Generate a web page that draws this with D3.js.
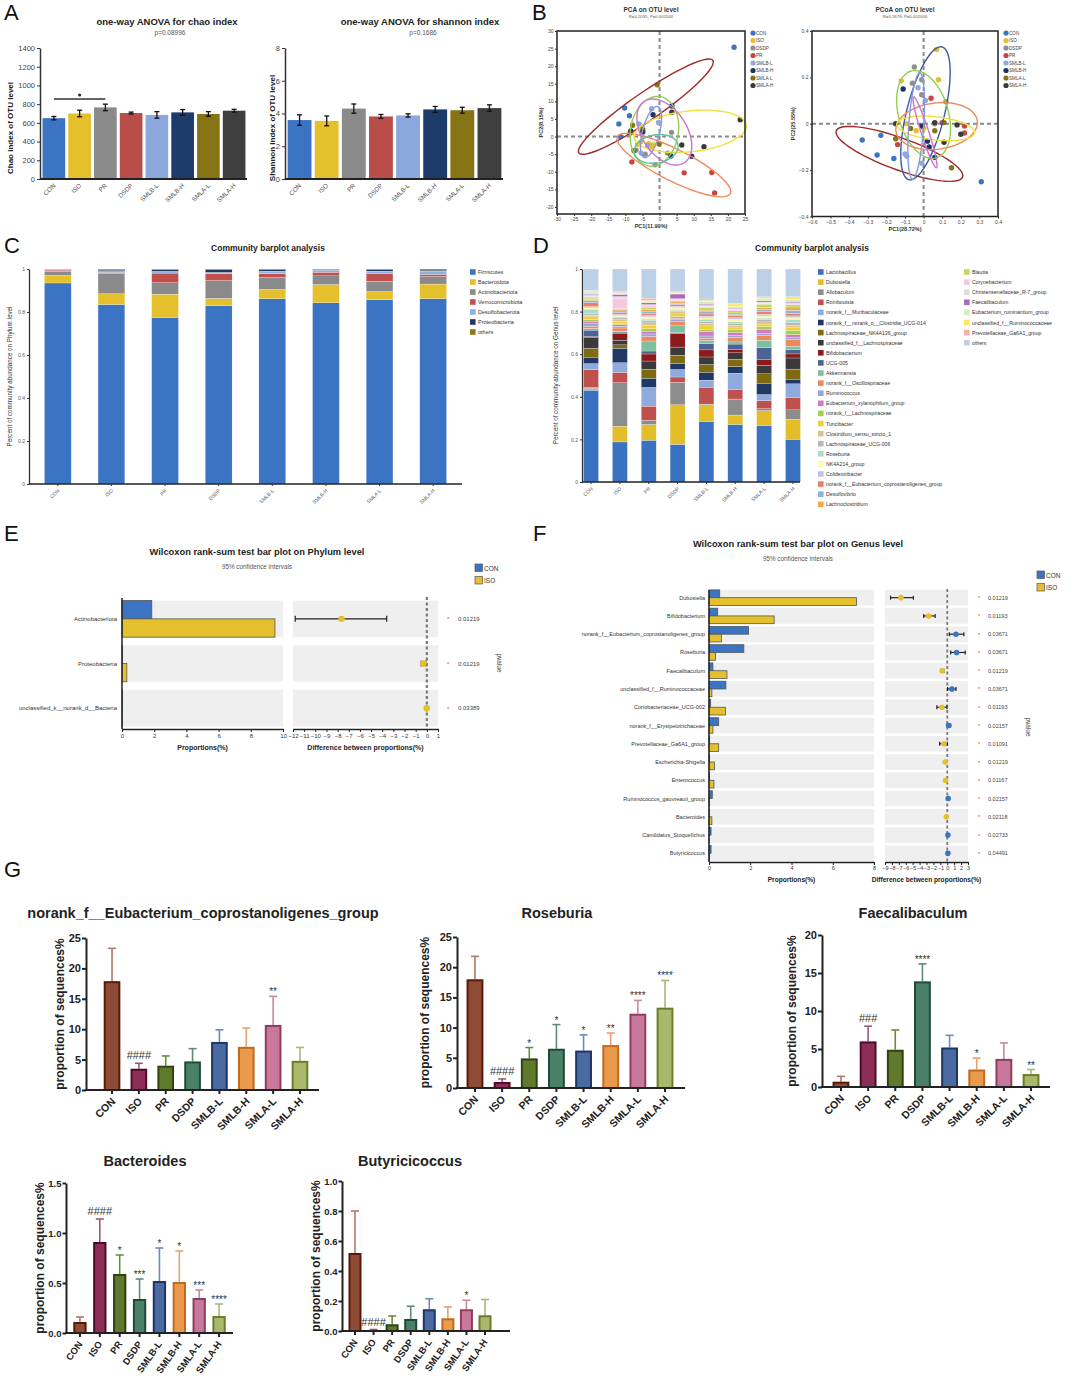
<!DOCTYPE html>
<html>
<head>
<meta charset="utf-8">
<script src="https://cdn.jsdelivr.net/npm/d3@7"></script>
<style>
html,body{margin:0;padding:0;background:#fff;}
svg{display:block;font-family:"Liberation Sans",Arial,Helvetica,sans-serif;}
</style>
</head>
<body>
<svg id="fig" width="1080" height="1380"></svg>
<script>
// ================= DATA =================
const groups = ["CON","ISO","PR","DSDP","SMLB-L","SMLB-H","SMLA-L","SMLA-H"];

// Panel A – alpha diversity
const chaoMean = [650,700,765,705,685,712,695,730];
const chaoErr  = [18,35,35,10,35,30,25,15];
const chaoTicks = [0,200,400,600,800,1000,1200,1400];
const shannonMean = [3.6,3.55,4.3,3.82,3.88,4.25,4.2,4.33];
const shannonErr  = [0.32,0.3,0.28,0.12,0.1,0.18,0.18,0.2];
const shannonTicks = [0,2,4,6,8];

// Panel B – PCA / PCoA (legend order)
const betaGroups = ["CON","ISO","DSDP","PR","SMLB-L","SMLB-H","SMLA-L","SMLA-H"];
const pcaCON  = [[21.8,25.4],[-10.2,8.1],[-8.8,5.9],[-11.9,3.6],[-11.4,0]];
const pcaISO  = [[-1.8,-2.4],[-3.2,-2.0],[-6.4,-2.2],[-2.5,-3.0],[-5.5,-1.5]];
const pcaDSDP = [[3.5,1.2],[-1.3,-8.0],[2.3,-4.7],[-6.9,-3.9],[-4.2,-5.0]];
const pcaPR   = [[-8.1,-7.2],[7.2,-10.3],[15.3,-10.2],[16.1,-16.0],[-8.6,1.0]];
const pcaSMLBL= [[-2.3,7.9],[-0.3,4.0],[-6.0,3.6],[-5.4,-4.7],[-3.5,-2.5]];
const pcaSMLBH= [[3.6,8.7],[-1.9,6.2],[-8.4,1.6],[3.3,-5.5],[9.4,-5.6]];
const pcaSMLAL= [[-0.7,14.7],[-7.9,3.2],[-4.9,2.0],[-0.1,-2.1],[-7.5,-4.0]];
const pcaSMLAH= [[23.6,4.8],[3.6,6.9],[6.5,-2.4],[13.0,-2.9],[-4.9,1.3]];
// ellipses: [cx, cy, semi-major, semi-minor, angle(deg)]
const pcaEllipses = [[-4,8.5,23.6,4,33.8],[4.2,-8.1,18.4,4.5,-26],[9,1.5,16.5,5.8,6],[-1.5,1.5,10,7,80],[1.4,1.3,10.5,6.5,-55],[-2.5,1.3,7.5,2.5,75],[-1,-3.5,6.5,4,10]];
const pcoaCON  = [[-0.33,-0.07],[-0.23,-0.05],[-0.25,-0.135],[-0.16,-0.15],[0.31,-0.25]];
const pcoaISO  = [[0.07,0.32],[-0.12,0.185],[0.08,0.19],[-0.09,0.0],[-0.04,-0.03],[0.0,-0.02]];
const pcoaDSDP = [[-0.05,0.245],[-0.06,0.175],[-0.01,0.19],[-0.01,0.125],[0.12,0.095],[0.06,0.0]];
const pcoaPR   = [[0.04,0.11],[-0.14,-0.09],[0.22,-0.01],[0.22,-0.04],[0.1,0.005]];
const pcoaSMLBL= [[-0.03,0.155],[0.01,0.1],[-0.1,-0.13],[-0.01,-0.17],[-0.09,-0.14]];
const pcoaSMLBH= [[-0.11,0.15],[-0.01,-0.01],[0.02,-0.075],[0.03,-0.1],[0.06,-0.145]];
const pcoaSMLAL= [[-0.07,-0.02],[-0.15,-0.065],[0.15,-0.19],[0.11,0.005],[0.06,-0.03]];
const pcoaSMLAH= [[-0.15,0.0],[0.06,0.005],[0.18,-0.005],[0.2,-0.045],[0.11,-0.08]];
const pcoaEllipses = [[-0.13,-0.13,0.354,0.07,-16],[0.01,0.045,0.3,0.1,72],[0.0,0.04,0.2,0.13,-65],[0.07,-0.01,0.22,0.1,5],[0.065,-0.02,0.21,0.05,-5],[0.0075,-0.037,0.165,0.02,-68],[-0.04,-0.01,0.23,0.04,85]];
const pcaTicksX = [-30,-25,-20,-15,-10,-5,0,5,10,15,20,25];
const pcaTicksY = [-20,-15,-10,-5,0,5,10,15,20,25,30];
const pcoaTicksX = [-0.6,-0.5,-0.4,-0.3,-0.2,-0.1,0,0.1,0.2,0.3,0.4];
const pcoaTicksY = [-0.4,-0.2,0,0.2,0.4];

// Panel C – phylum composition
const phylumNames = ["Firmicutes","Bacteroidota","Actinobacteriota","Verrucomicrobiota","Desulfobacterota","Proteobacteria","others"];
const firmicutes        = [0.935,0.835,0.775,0.83,0.862,0.843,0.858,0.862];
const bacteroidota      = [0.035,0.05,0.108,0.033,0.043,0.085,0.037,0.068];
const actinobacteriota  = [0.02,0.095,0.053,0.083,0.055,0.04,0.048,0.035];
const verrucomicrobiota = [0.005,0.004,0.045,0.032,0.018,0.017,0.037,0.01];
const desulfobacterota  = [0.003,0.008,0.008,0.006,0.012,0.01,0.01,0.015];
const proteobacteria    = [0.001,0.004,0.008,0.012,0.006,0.003,0.006,0.005];
const phylumOthers      = [0.001,0.004,0.003,0.004,0.004,0.002,0.004,0.005];

// Panel D – genus composition
const genusNames = ["Lactobacillus","Dubosiella","Allobaculum","Romboutsia","norank_f__Muribaculaceae","norank_f__norank_o__Clostridia_UCG-014","Lachnospiraceae_NK4A136_group","unclassified_f__Lachnospiraceae","Bifidobacterium","UCG-005","Akkermansia","norank_f__Oscillospiraceae","Ruminococcus","Eubacterium_xylanophilum_group","norank_f__Lachnospiraceae","Turicibacter","Clostridium_sensu_stricto_1","Lachnospiraceae_UCG-006","Roseburia","NK4A214_group","Colidextribacter","norank_f__Eubacterium_coprostanoligenes_group","Desulfovibrio","Lachnoclostridium","Blautia","Corynebacterium","Christensenellaceae_R-7_group","Faecalibaculum","Eubacterium_ruminantium_group","unclassified_f__Ruminococcaceae","Prevotellaceae_Ga6A1_group","others"];
const genusCON  = [0.43,0.007,0.005,0.085,0.027,0.027,0.045,0.05,0.005,0.03,0.008,0.01,0.012,0.012,0.008,0.012,0.008,0.008,0.02,0.006,0.006,0.018,0.01,0.006,0.006,0.008,0.008,0.003,0.01,0.004,0.003,0.1];
const genusISO  = [0.188,0.074,0.204,0.049,0.045,0.068,0.016,0.022,0.033,0.005,0.004,0.015,0.008,0.008,0.006,0.01,0.01,0.008,0.004,0.004,0.006,0.008,0.008,0.006,0.004,0.05,0.008,0.01,0.004,0.004,0.006,0.105];
const genusPR   = [0.196,0.074,0.02,0.066,0.088,0.043,0.042,0.039,0.033,0.014,0.047,0.021,0.012,0.01,0.015,0.015,0.012,0.01,0.008,0.01,0.008,0.008,0.008,0.01,0.012,0.006,0.006,0.008,0.006,0.006,0.01,0.137];
const genusDSDP = [0.176,0.185,0.105,0.025,0.035,0.027,0.04,0.038,0.064,0.004,0.031,0.02,0.01,0.006,0.008,0.012,0.01,0.006,0.006,0.008,0.006,0.008,0.006,0.006,0.006,0.004,0.005,0.022,0.004,0.004,0.004,0.105];
const genusSMLBL= [0.283,0.078,0.003,0.079,0.033,0.037,0.036,0.035,0.033,0.03,0.015,0.01,0.01,0.02,0.012,0.015,0.012,0.01,0.01,0.006,0.008,0.01,0.01,0.008,0.012,0.004,0.006,0.006,0.012,0.006,0.006,0.14];
const genusSMLBH= [0.27,0.044,0.075,0.046,0.075,0.032,0.034,0.03,0.014,0.027,0.01,0.02,0.01,0.015,0.015,0.01,0.008,0.01,0.008,0.01,0.008,0.01,0.006,0.006,0.01,0.004,0.004,0.004,0.008,0.012,0.004,0.16];
const genusSMLAL= [0.264,0.069,0.009,0.038,0.028,0.05,0.047,0.04,0.028,0.055,0.034,0.021,0.012,0.015,0.015,0.012,0.01,0.01,0.008,0.01,0.008,0.012,0.01,0.01,0.015,0.004,0.006,0.006,0.01,0.004,0.004,0.13];
const genusSMLAH= [0.2,0.094,0.044,0.059,0.063,0.022,0.047,0.052,0.019,0.02,0.016,0.031,0.012,0.012,0.02,0.012,0.012,0.012,0.015,0.008,0.008,0.012,0.015,0.015,0.01,0.004,0.006,0.006,0.008,0.01,0.004,0.13];

// Panel E – Wilcoxon phylum
const phylaE   = ["Actinobacteriota","Proteobacteria","unclassified_k__norank_d__Bacteria"];
const phylaECON = [1.85,0.02,0.02];
const phylaEISO = [9.5,0.3,0.01];
const phylaEDiff = [-7.65,-0.3,-0.01];
const phylaELo   = [-11.8,-0.5,-0.04];
const phylaEHi   = [-3.6,-0.1,0.01];
const phylaEP    = ["0.01219","0.01219","0.03389"];
const diffTicksE = [-12,-11,-10,-9,-8,-7,-6,-5,-4,-3,-2,-1,0,1];
const propTicksE = [0,2,4,6,8,10];

// Panel F – Wilcoxon genus
const generaF = ["Dubosiella","Bifidobacterium","norank_f__Eubacterium_coprostanoligenes_group","Roseburia","Faecalibaculum","unclassified_f__Ruminococcaceae","Coriobacteriaceae_UCG-002","norank_f__Erysipelotrichaceae","Prevotellaceae_Ga6A1_group","Escherichia-Shigella","Enterococcus","Ruminococcus_gauvreauii_group","Bacteroides","Candidatus_Stoquefichus","Butyricicoccus"];
const generaFCON = [0.52,0.42,1.92,1.69,0.19,0.82,0.08,0.47,0.03,0.03,0.02,0.16,0.01,0.1,0.1];
const generaFISO = [7.15,3.16,0.6,0.32,0.87,0.14,0.8,0.19,0.47,0.27,0.24,0.02,0.14,0.01,0.01];
const generaFDiff = [-6.7,-2.7,1.26,1.35,-0.72,0.68,-0.77,0.2,-0.48,-0.3,-0.25,0.14,-0.13,0.09,0.09];
const generaFLo   = [-8.2,-3.4,0.3,0.5,-0.95,0.05,-1.5,0.0,-1.1,-0.42,-0.36,0.05,-0.2,0.03,0.03];
const generaFHi   = [-4.9,-1.75,2.4,2.6,-0.45,1.26,-0.05,0.5,0.0,-0.15,-0.12,0.22,-0.06,0.14,0.14];
const generaFP    = ["0.01219","0.01193","0.03671","0.03671","0.01219","0.03671","0.01193","0.02157","0.01091","0.01219","0.01167","0.02157","0.02118","0.02733","0.04491"];
const diffTicksF = [-9,-8,-7,-6,-5,-4,-3,-2,-1,0,1,2,3];
const propTicksF = [0,2,4,6,8];

// Panel G – key genera
const eubMean = [17.9,3.5,4.0,4.7,7.9,7.1,10.7,4.8];
const eubErr  = [5.4,0.9,1.6,2.1,2.0,3.1,4.7,2.2];
const eubSig  = ["","####","","","","","**",""];
const rosMean = [18.0,1.0,4.9,6.5,6.2,7.1,12.3,13.3];
const rosErr  = [3.8,0.5,1.8,4.0,2.6,2.0,2.2,4.5];
const rosSig  = ["","####","*","*","*","**","****","****"];
const faeMean = [0.7,6.0,4.9,13.9,5.2,2.3,3.7,1.7];
const faeErr  = [0.7,2.0,2.6,2.3,1.6,1.5,2.1,0.6];
const faeSig  = ["","###","","****","","*","","**"];
const bacMean = [0.11,0.91,0.59,0.34,0.52,0.51,0.35,0.17];
const bacErr  = [0.05,0.23,0.19,0.2,0.33,0.31,0.08,0.12];
const bacSig  = ["","####","*","***","*","*","***","****"];
const butMean = [0.52,0.005,0.045,0.08,0.145,0.085,0.145,0.105];
const butErr  = [0.28,0.005,0.055,0.085,0.07,0.075,0.06,0.105];
const butSig  = ["","####","","","","","*",""];

// ================= STYLES =================
const alphaColors = ["#3c74c4","#e4c02c","#8a8a8a","#b84d49","#8aa8dc","#1c3a6a","#857314","#3f3f3f"];
const betaColors  = ["#3c74c4","#e4c02c","#8f8f8f","#c9463d","#8fa9e0","#1c3565","#857314","#3a3a3a"];
const pcaEllColors = ["#a02828","#ec8a5c","#f0e040","#90d050","#d070d0","#8898e0","#60c0a0"];
const pcoaEllColors = ["#a02828","#3c5aa0","#90d050","#ec8a5c","#f0e040","#d070d0","#8898e0"];
const phylumColors = ["#3c74c4","#e4c02c","#8a8a8a","#c0504d","#8fb0e0","#1f3864","#8b7a14"];
const genusColors = ["#3a72c1","#e3bd2a","#8c8c8c","#c0504d","#8faadc","#1f3864","#7f6a10","#3a3a3a","#8b1a1a","#4a6594","#7fbf9f","#ed8a5a","#9aa6d8","#d479c5","#a5cf4f","#f2d033","#dcc090","#b8b8b8","#a8ddc8","#fdf7b0","#c8bfe5","#e8806e","#8eb4d8","#f0a84a","#c2d95a","#f5c8e0","#dcdcdc","#a66cc0","#d6ecc8","#f8ea5a","#f2b0a8","#bcd0e8"];
const gFill   = ["#8e4b35","#8c2e55","#5f7a2c","#4a8068","#4a6aa2","#ea9a4a","#c8789a","#a9b96c"];
const gStroke = ["#5a1808","#4e0c2a","#2f4410","#1e4a38","#1e3566","#c06a20","#8e3e5c","#6a7e2a"];
const gErrCol = ["#b27868","#9a5a7a","#6e8a3e","#5f8a78","#7088b8","#e8a070","#c88aa0","#a8b878"];
const CONC = "#3c74c4", ISOC = "#e4c02c";

// ================= HELPERS =================
const svg = d3.select("#fig");
svg.append("rect").attr("width",1080).attr("height",1380).attr("fill","#fff");
const FONT = '"Liberation Sans", Arial, sans-serif';

function txt(g, s, x, y, o={}) {
  const t = g.append("text").attr("x",x).attr("y",y).text(s)
    .attr("font-size", o.fs||8).attr("fill", o.fill||"#222")
    .attr("font-weight", o.fw||"normal").attr("text-anchor", o.anchor||"start");
  if (o.rotate!=null) t.attr("transform",`rotate(${o.rotate},${x},${y})`);
  return t;
}
function styleAxis(a, o){
  a.selectAll("text").attr("font-size",o.fs).attr("fill",o.fill||"#333").attr("font-weight",o.fw||"normal").attr("font-family",FONT);
  a.selectAll(".tick line").attr("stroke",o.stroke||"#333").attr("stroke-width",o.sw||1);
  a.selectAll(".domain").attr("stroke",o.stroke||"#333").attr("stroke-width",o.dw||o.sw||1);
  if (o.noDomain) a.select(".domain").remove();
}
function fmtNum(d){ return Math.abs(d)<1e-9 ? "0" : d3.format(".1f")(d); }

// Panel labels
[["A",4,20],["B",532,20],["C",4,253],["D",533,253],["E",4,541],["F",533,541],["G",4,877]].forEach(([s,x,y])=>txt(svg,s,x,y,{fs:22,fill:"#111"}));

// ================= PANEL A =================
function alphaChart(o){
  const g = svg.append("g");
  const x = d3.scaleBand().domain(groups).range(o.xr).paddingInner(0.12).paddingOuter(0.06);
  const y = d3.scaleLinear().domain([0,o.max]).range([o.y0,o.y1]);
  g.selectAll("rect.bar").data(o.mean).join("rect").attr("class","bar")
    .attr("x",(d,i)=>x(groups[i])).attr("width",x.bandwidth())
    .attr("y",d=>y(d)).attr("height",d=>y(0)-y(d)).attr("fill",(d,i)=>alphaColors[i]);
  o.mean.forEach((m,i)=>{
    const cx = x(groups[i])+x.bandwidth()/2;
    g.append("line").attr("x1",cx).attr("x2",cx).attr("y1",y(m-o.err[i])).attr("y2",y(m+o.err[i])).attr("stroke","#111").attr("stroke-width",1.3);
    [m-o.err[i], m+o.err[i]].forEach(v=>g.append("line").attr("x1",cx-2.5).attr("x2",cx+2.5).attr("y1",y(v)).attr("y2",y(v)).attr("stroke","#111").attr("stroke-width",1.3));
    txt(g, groups[i], cx+2, o.y0+7, {fs:6.3, fill:"#555", anchor:"end", rotate:-45});
  });
  const ya = g.append("g").attr("transform",`translate(${o.ax},0)`)
    .call(d3.axisLeft(y).tickValues(o.ticks).tickSize(3).tickSizeOuter(0).tickPadding(2).tickFormat(d3.format("d")));
  styleAxis(ya,{fs:7.5,fill:"#444",stroke:"#333",sw:1,dw:1.5});
  g.append("line").attr("x1",o.ax).attr("x2",o.xr[1]).attr("y1",y(0)).attr("y2",y(0)).attr("stroke","#222").attr("stroke-width",2);
  txt(g, o.title, o.tx, 25, {fs:9.5, fw:"bold", anchor:"middle", fill:"#222"});
  txt(g, o.p, o.tx+3, 35, {fs:6.5, anchor:"middle", fill:"#555"});
  txt(g, o.ylab, o.lx, 128, {fs:8, fw:"bold", anchor:"middle", rotate:-90, fill:"#222"});
  return {g,x,y};
}
const chao = alphaChart({xr:[41,247], ax:40, y0:179, y1:48, max:1400, ticks:chaoTicks, mean:chaoMean, err:chaoErr,
  title:"one-way ANOVA for chao index", p:"p=0.08996", tx:167, ylab:"Chao index of OTU level", lx:13});
{
  const cx1 = chao.x("CON")+chao.x.bandwidth()/2, cx2 = chao.x("PR")+chao.x.bandwidth()/2, yy = chao.y(855);
  chao.g.append("line").attr("x1",cx1).attr("x2",cx2).attr("y1",yy).attr("y2",yy).attr("stroke","#333").attr("stroke-width",1.6);
  chao.g.append("circle").attr("cx",(cx1+cx2)/2).attr("cy",yy-4).attr("r",1.5).attr("fill","#222");
}
alphaChart({xr:[286,503], ax:285, y0:179, y1:48, max:8, ticks:shannonTicks, mean:shannonMean, err:shannonErr,
  title:"one-way ANOVA for shannon index", p:"p=0.1686", tx:420, ylab:"Shannon index of OTU level", lx:275});

// ================= PANEL B =================
function betaPlot(o){
  const g = svg.append("g");
  const x = d3.scaleLinear().domain(o.xd).range([o.bx0,o.bx1]);
  const y = d3.scaleLinear().domain(o.yd).range([o.by1,o.by0]);
  g.append("line").attr("x1",x(0)).attr("x2",x(0)).attr("y1",o.by0).attr("y2",o.by1).attr("stroke","#8a8a8a").attr("stroke-width",2).attr("stroke-dasharray","4,3");
  g.append("line").attr("x1",o.bx0).attr("x2",o.bx1).attr("y1",y(0)).attr("y2",y(0)).attr("stroke","#8a8a8a").attr("stroke-width",2).attr("stroke-dasharray","4,3");
  o.points.forEach((pts,k)=>{
    g.selectAll(null).data(pts).join("circle").attr("cx",d=>x(d[0])).attr("cy",d=>y(d[1])).attr("r",2.7).attr("fill",betaColors[k]);
  });
  const line = d3.line().curve(d3.curveLinearClosed);
  o.ellipses.forEach((e,k)=>{
    const [cx,cy,a,b,ang] = e, ph = ang*Math.PI/180;
    const pts = d3.range(0,72).map(i=>{const t=i/72*2*Math.PI;
      return [x(cx + a*Math.cos(t)*Math.cos(ph) - b*Math.sin(t)*Math.sin(ph)), y(cy + a*Math.cos(t)*Math.sin(ph) + b*Math.sin(t)*Math.cos(ph))];});
    g.append("path").attr("d",line(pts)).attr("fill","none").attr("stroke",o.ellColors[k]).attr("stroke-width",1.4);
  });
  g.append("rect").attr("x",o.bx0).attr("y",o.by0).attr("width",o.bx1-o.bx0).attr("height",o.by1-o.by0).attr("fill","none").attr("stroke","#222").attr("stroke-width",1.5);
  const xa = g.append("g").attr("transform",`translate(0,${o.by1})`).call(d3.axisBottom(x).tickValues(o.tx).tickSize(2).tickPadding(1.5).tickFormat(o.fmt));
  styleAxis(xa,{fs:5,fill:"#444",noDomain:true});
  const ya = g.append("g").attr("transform",`translate(${o.bx0},0)`).call(d3.axisLeft(y).tickValues(o.ty).tickSize(2).tickPadding(1.5).tickFormat(o.fmt));
  styleAxis(ya,{fs:5,fill:"#444",noDomain:true});
  const mx = (o.bx0+o.bx1)/2;
  txt(g,o.title,mx,12,{fs:6.5,fw:"bold",anchor:"middle",fill:"#333"});
  txt(g,o.sub,mx,18,{fs:4.3,anchor:"middle",fill:"#555"});
  txt(g,o.xlab,mx,o.by1+14,{fs:5.5,fw:"bold",anchor:"middle",fill:"#333"});
  txt(g,o.ylab,o.ylx,(o.by0+o.by1)/2,{fs:5.5,fw:"bold",anchor:"middle",rotate:-90,fill:"#333"});
  betaGroups.forEach((gr,i)=>{
    const cy = 33+i*7.5;
    g.append("circle").attr("cx",o.lgx).attr("cy",cy).attr("r",2.6).attr("fill",betaColors[i]);
    txt(g,gr,o.lgx+3,cy+1.7,{fs:4.6,fill:"#444"});
  });
}
betaPlot({xd:[-30,25], yd:[-22,30], bx0:557, bx1:745, by0:31, by1:214,
  points:[pcaCON,pcaISO,pcaDSDP,pcaPR,pcaSMLBL,pcaSMLBH,pcaSMLAL,pcaSMLAH], ellipses:pcaEllipses, ellColors:pcaEllColors,
  tx:pcaTicksX, ty:pcaTicksY, fmt:d=>String(d), title:"PCA on OTU level", sub:"R=0.2035, P=0.002000",
  xlab:"PC1(11.99%)", ylab:"PC2(8.15%)", ylx:543, lgx:753});
betaPlot({xd:[-0.6,0.4], yd:[-0.4,0.4], bx0:812, bx1:998, by0:31, by1:216.5,
  points:[pcoaCON,pcoaISO,pcoaDSDP,pcoaPR,pcoaSMLBL,pcoaSMLBH,pcoaSMLAL,pcoaSMLAH], ellipses:pcoaEllipses, ellColors:pcoaEllColors,
  tx:pcoaTicksX, ty:pcoaTicksY, fmt:fmtNum, title:"PCoA on OTU level", sub:"R=0.2679, P=0.002000",
  xlab:"PC1(28.72%)", ylab:"PC2(25.55%)", ylx:795, lgx:1006});

// ================= PANEL C & D =================
function stackChart(o){
  const g = svg.append("g");
  const rows = groups.map((gr,i)=>{const r={group:gr}; o.keys.forEach((k,j)=>r[k]=o.get(j,i)); return r;});
  const series = d3.stack().keys(o.keys).offset(d3.stackOffsetExpand)(rows);
  const x = d3.scaleBand().domain(groups).range(o.xr).paddingInner(o.pad).paddingOuter(o.pad/2);
  const y = d3.scaleLinear().domain([0,1]).range([o.y0,o.y1]);
  series.forEach((s,k)=>{
    g.selectAll(null).data(s).join("rect").attr("x",d=>x(d.data.group)).attr("width",x.bandwidth())
      .attr("y",d=>y(d[1])).attr("height",d=>Math.max(0,y(d[0])-y(d[1]))).attr("fill",o.colors[k])
      .attr("stroke","#fff").attr("stroke-width",0.25);
  });
  const ya = g.append("g").attr("transform",`translate(${o.ax},0)`).call(d3.axisLeft(y).tickValues([0,0.2,0.4,0.6,0.8,1]).tickSize(2).tickSizeOuter(0).tickPadding(2).tickFormat(d=>d===0?"0":d===1?"1":d3.format(".1f")(d)));
  styleAxis(ya,{fs:5,fill:"#555",stroke:"#333",dw:1.3});
  g.append("line").attr("x1",o.ax).attr("x2",o.xend).attr("y1",o.y0).attr("y2",o.y0).attr("stroke","#222").attr("stroke-width",1.5);
  groups.forEach(gr=>{
    const cx = x(gr)+x.bandwidth()/2;
    g.append("line").attr("x1",cx).attr("x2",cx).attr("y1",o.y0).attr("y2",o.y0+2).attr("stroke","#333");
    txt(g,gr,cx+2,o.y0+7,{fs:5,fill:"#555",anchor:"end",rotate:-45});
  });
  txt(g,o.title,o.tx,251,{fs:8.5,fw:"bold",anchor:"middle",fill:"#222"});
  txt(g,o.ylab,o.lx,(o.y0+o.y1)/2,{fs:6.3,anchor:"middle",rotate:-90,fill:"#333"});
  o.legend.forEach((cols)=>{
    cols.items.forEach((k,i)=>{
      const cy = 272 + i*o.lstep;
      g.append("rect").attr("x",cols.x).attr("y",cy-2.8).attr("width",5.6).attr("height",5.6).attr("fill",o.colors[o.keys.indexOf(k)]);
      txt(g,k,cols.x+8,cy+2,{fs:o.lfs,fill:"#333"});
    });
  });
}
const phylumSeries = [firmicutes,bacteroidota,actinobacteriota,verrucomicrobiota,desulfobacterota,proteobacteria,phylumOthers];
stackChart({keys:phylumNames, get:(j,i)=>phylumSeries[j][i], colors:phylumColors, xr:[31,460], pad:0.5, ax:29, xend:462, y0:484, y1:269,
  title:"Community barplot analysis", tx:268, ylab:"Percent of community abundance on Phylum level", lx:12,
  legend:[{x:470, items:phylumNames}], lstep:10, lfs:5.5});
const genusByGroup = [genusCON,genusISO,genusPR,genusDSDP,genusSMLBL,genusSMLBH,genusSMLAL,genusSMLAH];
stackChart({keys:genusNames, get:(j,i)=>genusByGroup[i][j], colors:genusColors, xr:[576.6,807.4], pad:0.48, ax:582, xend:800, y0:482, y1:269,
  title:"Community barplot analysis", tx:812, ylab:"Percent of community abundance on Genus level", lx:558,
  legend:[{x:818, items:genusNames.slice(0,24)},{x:964, items:genusNames.slice(24)}], lstep:10.1, lfs:5.2});

// ================= PANEL E & F =================
function wilcox(o){
  const g = svg.append("g");
  const yb = d3.scaleBand().domain(o.names).range(o.yr).paddingInner(o.pin).paddingOuter(o.pout);
  const xl = d3.scaleLinear().domain(o.ld).range(o.lr);
  const xr = d3.scaleLinear().domain(o.rd).range(o.rr);
  const bw = yb.bandwidth();
  o.names.forEach((n,i)=>{
    const y0 = yb(n);
    g.append("rect").attr("x",o.lr[0]).attr("y",y0).attr("width",o.lr[1]-o.lr[0]).attr("height",bw).attr("fill","#efefef");
    g.append("rect").attr("x",o.rr[0]).attr("y",y0).attr("width",o.rr[1]-o.rr[0]).attr("height",bw).attr("fill","#efefef");
  });
  g.append("line").attr("x1",xr(0)).attr("x2",xr(0)).attr("y1",o.yr[0]).attr("y2",o.axY).attr("stroke","#7a7a7a").attr("stroke-width",o.dashW).attr("stroke-dasharray","3,2.5");
  o.names.forEach((n,i)=>{
    const y0 = yb(n), cy = y0+bw/2;
    g.append("rect").attr("x",xl(0)).attr("y",y0).attr("width",xl(o.con[i])-xl(0)).attr("height",bw/2).attr("fill",CONC).attr("stroke","#555").attr("stroke-width",0.8);
    g.append("rect").attr("x",xl(0)).attr("y",cy).attr("width",xl(o.iso[i])-xl(0)).attr("height",bw/2).attr("fill",ISOC).attr("stroke","#555").attr("stroke-width",0.8);
    g.append("line").attr("x1",xr(o.lo[i])).attr("x2",xr(o.hi[i])).attr("y1",cy).attr("y2",cy).attr("stroke","#222").attr("stroke-width",1.2);
    [o.lo[i],o.hi[i]].forEach(v=>g.append("line").attr("x1",xr(v)).attr("x2",xr(v)).attr("y1",cy-o.cap).attr("y2",cy+o.cap).attr("stroke","#222").attr("stroke-width",1.2));
    g.append("circle").attr("cx",xr(o.diff[i])).attr("cy",cy).attr("r",o.pr).attr("fill",o.diff[i]<0?ISOC:CONC);
    txt(g,n,o.labX,cy+2,{fs:o.fs,anchor:"end",fill:"#333"});
    txt(g,"*",o.starX,cy+2.5,{fs:o.fs,fill:"#d04040"});
    txt(g,o.p[i],o.pX,cy+2,{fs:o.fs,fill:"#444"});
  });
  g.append("line").attr("x1",o.lr[0]).attr("x2",o.lr[0]).attr("y1",o.yr[0]+1).attr("y2",o.axY).attr("stroke","#222").attr("stroke-width",1.5);
  const la = g.append("g").attr("transform",`translate(0,${o.axY})`).call(d3.axisBottom(xl).tickValues(o.lt).tickSize(3).tickSizeOuter(0).tickPadding(1.5));
  styleAxis(la,{fs:o.fs,fill:"#333",stroke:"#222",dw:1.3});
  const ra = g.append("g").attr("transform",`translate(0,${o.axY})`).call(d3.axisBottom(xr).tickValues(o.rt).tickSize(3).tickSizeOuter(0).tickPadding(1.5));
  styleAxis(ra,{fs:o.fs,fill:"#333",stroke:"#222",dw:1.3});
  txt(g,"Proportions(%)",(o.lr[0]+o.lr[1])/2,o.axY+o.xlOff,{fs:o.afs,fw:"bold",anchor:"middle",fill:"#222"});
  txt(g,"Difference between proportions(%)",(o.rr[0]+o.rr[1])/2,o.axY+o.xlOff,{fs:o.afs,fw:"bold",anchor:"middle",fill:"#222"});
  txt(g,o.title,o.tx,o.ty,{fs:9.3,fw:"bold",anchor:"middle",fill:"#222"});
  txt(g,"95% confidence intervals",o.tx,o.ty+14,{fs:6.3,anchor:"middle",fill:"#555"});
  [["CON",CONC],["ISO",ISOC]].forEach(([s,c],k)=>{
    const yy = o.lgY + k*12.5;
    g.append("rect").attr("x",o.lgX).attr("y",yy).attr("width",7.5).attr("height",7.5).attr("fill",c).attr("stroke","#555").attr("stroke-width",0.7);
    txt(g,s,o.lgX+9,yy+6.5,{fs:6.5,fill:"#333"});
  });
  txt(g,"pvalue",o.pvX,o.pvY,{fs:6.5,anchor:"middle",rotate:90,fill:"#444"});
}
wilcox({names:phylaE, con:phylaECON, iso:phylaEISO, diff:phylaEDiff, lo:phylaELo, hi:phylaEHi, p:phylaEP,
  yr:[597,730], pin:0.18, pout:0.08, ld:[0,10], lr:[122,283], rd:[-12,1], rr:[293,438], lt:propTicksE, rt:diffTicksE,
  axY:729, dashW:2.2, cap:3, pr:3.2, labX:117, starX:447, pX:458, fs:6, afs:7, xlOff:21,
  title:"Wilcoxon rank-sum test bar plot on Phylum level", tx:257, ty:555, lgX:475, lgY:564, pvX:497, pvY:663});
wilcox({names:generaF, con:generaFCON, iso:generaFISO, diff:generaFDiff, lo:generaFLo, hi:generaFHi, p:generaFP,
  yr:[589,862], pin:0.15, pout:0.05, ld:[0,8], lr:[709,874], rd:[-9,3], rr:[885,968], lt:propTicksF, rt:diffTicksF,
  axY:862, dashW:1.8, cap:2, pr:2.8, labX:705, starX:978, pX:988, fs:5.5, afs:6.6, xlOff:20,
  title:"Wilcoxon rank-sum test bar plot on Genus level", tx:798, ty:547, lgX:1037, lgY:571, pvX:1026, pvY:727});

// ================= PANEL G =================
function gChart(o){
  const g = svg.append("g");
  const x = d3.scaleBand().domain(groups).range(o.xr).paddingInner(o.pad).paddingOuter(o.pad/2);
  const y = d3.scaleLinear().domain([0,o.max]).range([o.y0,o.y1]);
  const bw = x.bandwidth();
  groups.forEach((gr,i)=>{
    const cx = x(gr)+bw/2, top = y(o.mean[i]+o.err[i]);
    g.append("line").attr("x1",cx).attr("x2",cx).attr("y1",y(o.mean[i])).attr("y2",top).attr("stroke",gErrCol[i]).attr("stroke-width",1.6);
    g.append("line").attr("x1",cx-4).attr("x2",cx+4).attr("y1",top).attr("y2",top).attr("stroke",gErrCol[i]).attr("stroke-width",1.6);
    const h = y(0)-y(o.mean[i]);
    g.append("rect").attr("x",x(gr)+1).attr("width",bw-2).attr("y",y(o.mean[i])+1).attr("height",Math.max(0,h-1))
      .attr("fill",gFill[i]).attr("stroke",gStroke[i]).attr("stroke-width",2);
    if (o.sig[i]) {
      const isHash = o.sig[i][0]==="#";
      txt(g,o.sig[i],cx,isHash?top-4:top-1,{fs:isHash?11:10,anchor:"middle",fill:"#333"});
    }
    g.append("line").attr("x1",cx).attr("x2",cx).attr("y1",o.y0).attr("y2",o.y0+4).attr("stroke","#222").attr("stroke-width",2);
    txt(g,gr,cx+o.xlDx,o.y0+o.xlDy,{fs:o.xfs,fw:"bold",anchor:"end",rotate:o.rot,fill:"#222"});
  });
  const ya = g.append("g").attr("transform",`translate(${o.ax},0)`).call(d3.axisLeft(y).tickValues(o.ticks).tickSize(o.tsz).tickSizeOuter(0).tickPadding(o.tpad).tickFormat(o.fmt));
  styleAxis(ya,{fs:o.tfs,fw:"bold",fill:"#222",stroke:"#222",sw:2,dw:2});
  g.append("line").attr("x1",o.ax-1).attr("x2",o.xend).attr("y1",o.y0).attr("y2",o.y0).attr("stroke","#222").attr("stroke-width",2);
  txt(g,o.title,o.tx,o.ty,{fs:14.5,fw:"bold",anchor:"middle",fill:"#222"});
  txt(g,"proportion of sequences%",o.lx,(o.y0+o.y1)/2,{fs:12,fw:"bold",anchor:"middle",rotate:-90,fill:"#222"});
}
const topRow = {pad:0.38, tfs:11, tsz:4, tpad:1, xfs:10.5, rot:-45, xlDx:4, xlDy:12};
const botRow = {pad:0.33, tfs:9.5, tsz:3.5, tpad:1, xfs:9.5, rot:-55, xlDx:3, xlDy:11};
gChart({...topRow, title:"norank_f__Eubacterium_coprostanoligenes_group", tx:203, ty:918, mean:eubMean, err:eubErr, sig:eubSig,
  ax:86, xr:[98.6,313.4], xend:319, y0:1090, y1:938, max:25, ticks:[0,5,10,15,20,25], fmt:d=>String(d), lx:64});
gChart({...topRow, title:"Roseburia", tx:557, ty:918, mean:rosMean, err:rosErr, sig:rosSig,
  ax:457, xr:[461.4,678.6], xend:685, y0:1088, y1:937, max:25, ticks:[0,5,10,15,20,25], fmt:d=>String(d), lx:429});
gChart({...topRow, title:"Faecalibaculum", tx:913, ty:918, mean:faeMean, err:faeErr, sig:faeSig,
  ax:822, xr:[827.4,1044.6], xend:1050, y0:1087, y1:935, max:20, ticks:[0,5,10,15,20], fmt:d=>String(d), lx:796});
gChart({...botRow, title:"Bacteroides", tx:145, ty:1166, mean:bacMean, err:bacErr, sig:bacSig,
  ax:66, xr:[70,229], xend:233, y0:1333, y1:1183, max:1.5, ticks:[0,0.5,1,1.5], fmt:d3.format(".1f"), lx:44});
gChart({...botRow, pad:0.3, title:"Butyricicoccus", tx:410, ty:1166, mean:butMean, err:butErr, sig:butSig,
  ax:342, xr:[345.7,494.3], xend:510, y0:1331, y1:1181, max:1.0, ticks:[0,0.2,0.4,0.6,0.8,1.0], fmt:d3.format(".1f"), lx:320});
</script>
</body>
</html>
